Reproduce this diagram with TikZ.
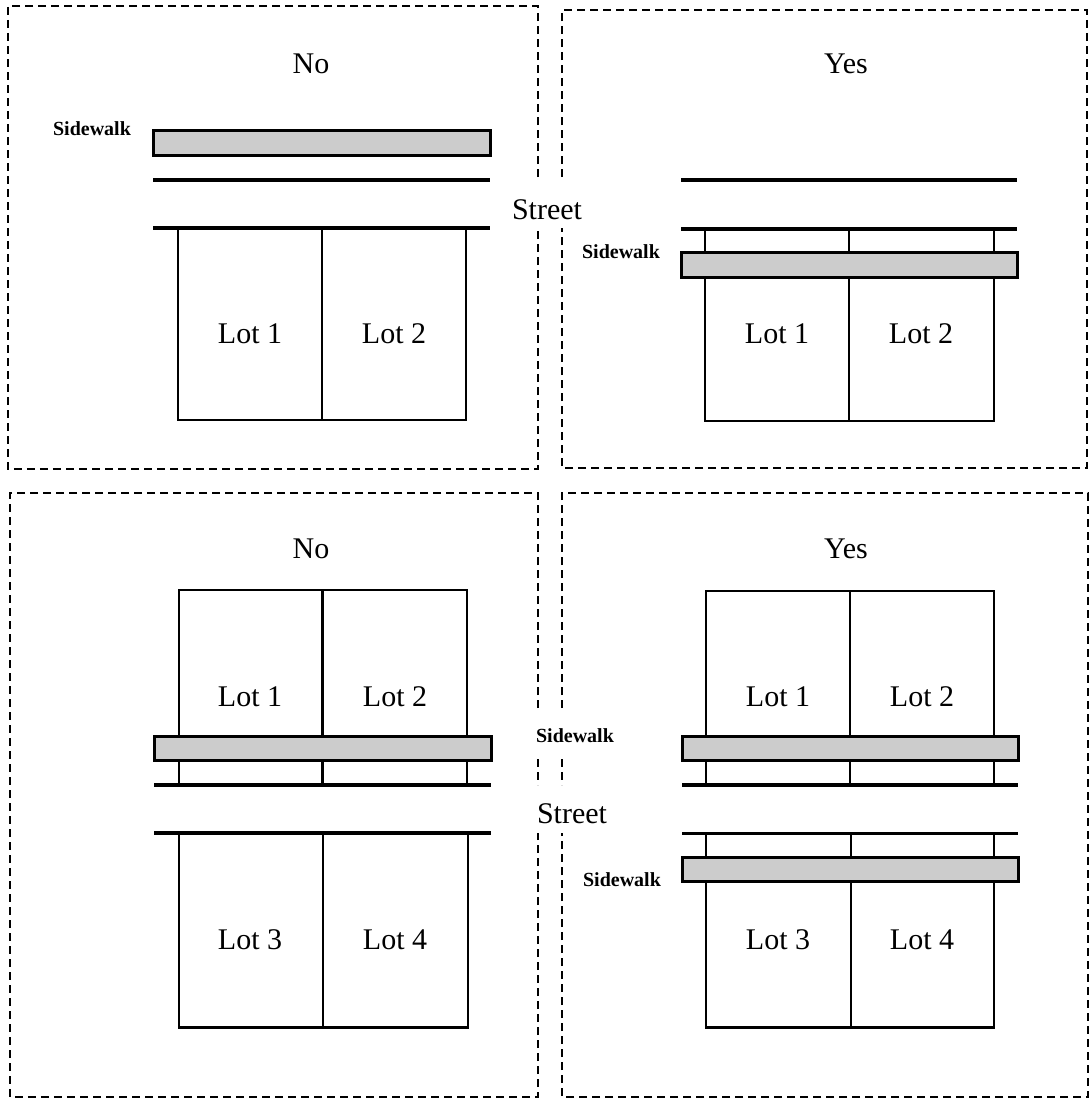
\documentclass[tikz,border=0pt]{standalone}
\usepackage{fontspec}
\setmainfont{Liberation Serif}
\begin{document}
\begin{tikzpicture}[x=1pt,y=-1pt,
  frame/.style={line width=2pt,dash pattern=on 8pt off 5pt},
  streetline/.style={line width=3.4pt},
  lotline/.style={line width=2.6pt},
  walk/.style={line width=3pt,fill=black!20},
  big/.style={font=\fontsize{30}{30}\selectfont,anchor=base,inner sep=0pt},
  small/.style={font=\fontsize{20}{20}\selectfont\bfseries,anchor=base,inner sep=0pt}]
\useasboundingbox (0,0) rectangle (1091,1100);

% dashed frames (with gaps where the middle labels sit)
\draw[frame] (538,177) -- (538,6) -- (8,6) -- (8,469) -- (538,469) -- (538,228);
\draw[frame] (562,177) -- (562,10) -- (1087,10) -- (1087,468) -- (562,468) -- (562,228);
\draw[frame] (538,708) -- (538,493) -- (10,493) -- (10,1097) -- (538,1097) -- (538,833);
\draw[frame] (538,759) -- (538,785);
\draw[frame] (562,708) -- (562,493) -- (1088,493) -- (1088,1097) -- (562,1097) -- (562,833);
\draw[frame] (562,759) -- (562,785);

% ---------- top left : No ----------
\node[big] (no1) at (311,73) {No};
\node[small] (sw1) at (92,135) {Sidewalk};
\draw[walk] (153,130) rectangle (490,155);
\draw[streetline] (153,180) -- (490,180);
\draw[lotline] (178,228) rectangle (466,420);
\draw[lotline] (322,228) -- (322,420);
\draw[streetline] (153,228) -- (490,228);
\node[big] (l1a) at (250,343) {Lot 1};
\node[big] (l2a) at (394,343) {Lot 2};

\node[big] (st1) at (547,219) {Street};

% ---------- top right : Yes ----------
\node[big] (yes1) at (846,73) {Yes};
\draw[streetline] (681,180) -- (1017,180);
\draw[lotline] (705,229) rectangle (994,421);
\draw[lotline] (849,229) -- (849,421);
\draw[streetline] (681,229) -- (1017,229);
\draw[walk] (681,252) rectangle (1017,277);
\node[small] (sw2) at (621,258) {Sidewalk};
\node[big] (l1b) at (777,343) {Lot 1};
\node[big] (l2b) at (921,343) {Lot 2};

% ---------- bottom left : No ----------
\node[big] (no2) at (311,558) {No};
\draw[lotline] (179,590) rectangle (467,785);
\draw[lotline] (322.5,590) -- (322.5,785);
\draw[walk] (154,736) rectangle (491,760);
\draw[streetline] (154,785) -- (491,785);
\draw[lotline] (179,833) rectangle (468,1027.5);
\draw[lotline] (323,833) -- (323,1027.5);
\draw[streetline] (154,833) -- (491,833);
\node[big] (l1c) at (250,706) {Lot 1};
\node[big] (l2c) at (395,706) {Lot 2};
\node[big] (l3c) at (250,949) {Lot 3};
\node[big] (l4c) at (395,949) {Lot 4};

% middle labels
\node[small] (sw3) at (575,742) {Sidewalk};
\node[big] (st2) at (572,823) {Street};

% ---------- bottom right : Yes ----------
\node[big] (yes2) at (846,558) {Yes};
\draw[lotline] (706,591) rectangle (994,785);
\draw[lotline] (850,591) -- (850,785);
\draw[walk] (682,736) rectangle (1018,760);
\draw[streetline] (682,785) -- (1018,785);
\draw[lotline] (706,833.5) rectangle (994,1027.5);
\draw[lotline] (851,833.5) -- (851,1027.5);
\draw[streetline] (682,833.5) -- (1018,833.5);
\draw[walk] (682,857) rectangle (1018,881);
\node[small] (sw4) at (622,886) {Sidewalk};
\node[big] (l1d) at (778,706) {Lot 1};
\node[big] (l2d) at (922,706) {Lot 2};
\node[big] (l3d) at (778,949) {Lot 3};
\node[big] (l4d) at (922,949) {Lot 4};
\end{tikzpicture}
\end{document}
